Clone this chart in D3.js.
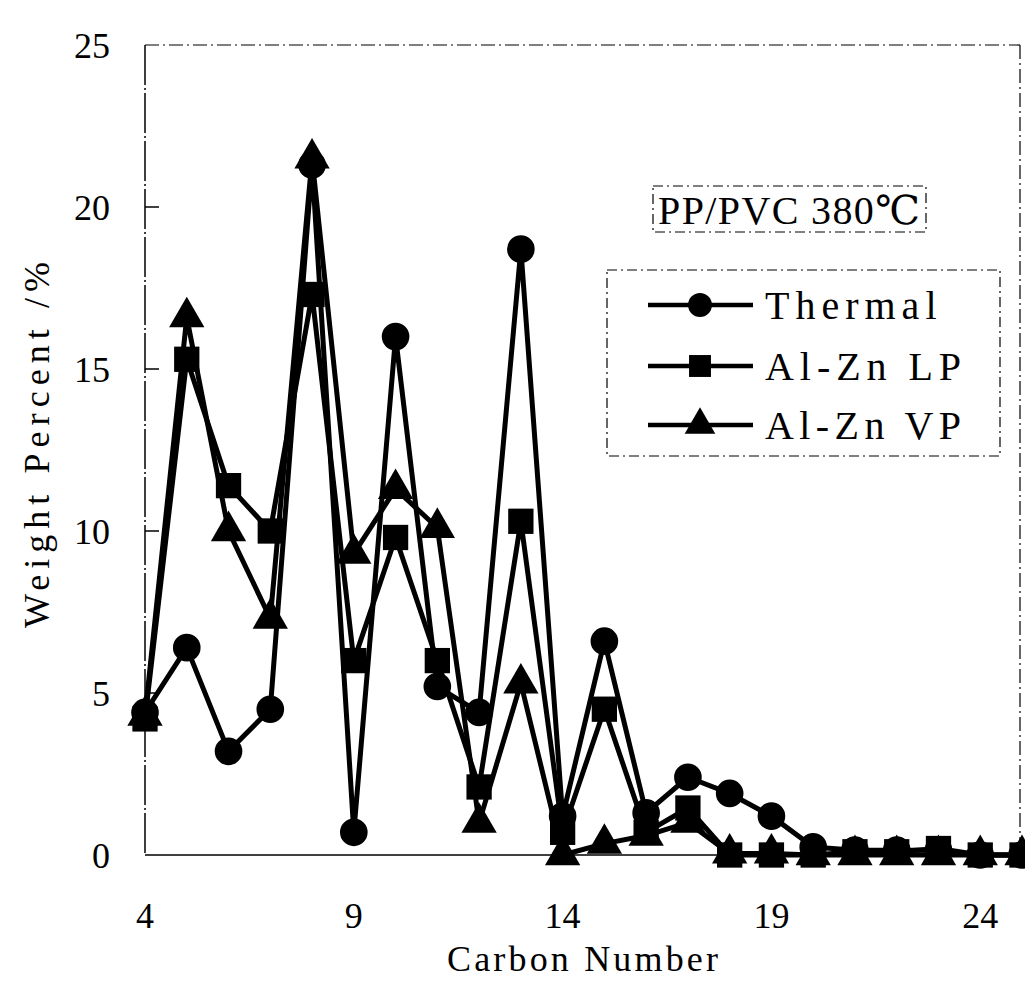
<!DOCTYPE html>
<html lang="en">
<head>
<meta charset="UTF-8">
<title>PP/PVC 380℃ carbon number distribution</title>
<script src="https://d3js.org/d3.v7.min.js"></script>
<style>
    body { margin: 0; background: #fff; }
    text { fill: #000; }
    .tick-label { font-family: "Liberation Serif", "DejaVu Serif", serif; font-size: 36px; }
    .axis-title { font-family: "Liberation Serif", "DejaVu Serif", serif; font-size: 36px; }
    .legend-text { font-family: "Liberation Serif", "DejaVu Serif", serif; font-size: 40px; }
</style>
</head>
<body>
<div id="chart"></div>
<script>
    // carbon numbers C4 .. C25
    const carbon = d3.range(4, 26);

    // weight percent
    const thermal = [4.4, 6.4, 3.2, 4.5, 21.3, 0.7, 16.0, 5.2, 4.4, 18.7, 1.2, 6.6, 1.3, 2.4, 1.9, 1.2, 0.25, 0.15, 0.15, 0.15, 0, 0];
    const alznLP  = [4.2, 15.3, 11.4, 10.0, 17.3, 6.0, 9.8, 6.0, 2.1, 10.3, 0.7, 4.5, 0.7, 1.45, 0, 0, 0, 0.1, 0.1, 0.2, 0, 0];
    const alznVP  = [4.3, 16.6, 10.0, 7.3, 21.5, 9.3, 11.3, 10.1, 1.0, 5.3, 0, 0.35, 0.6, 1.0, 0.05, 0.05, 0, 0, 0, 0, 0, 0];

    const xTicks = [4, 9, 14, 19, 24];
    const yTicks = [0, 5, 10, 15, 20, 25];
    const seriesNames = ["Thermal", "Al-Zn LP", "Al-Zn VP"];
    const seriesSymbols = [d3.symbolCircle, d3.symbolSquare, d3.symbolTriangle];
    const seriesSizes = [600, 640, 540];

    const width = 1025, height = 988;
    const x = d3.scaleLinear().domain([4, 25]).range([145, 1022]);
    const y = d3.scaleLinear().domain([0, 25]).range([855, 45]);

    const svg = d3.select("#chart").append("svg")
        .attr("width", width)
        .attr("height", height);

    // frame
    svg.append("line").attr("x1", x(4)).attr("x2", x(4)).attr("y1", y(25)).attr("y2", y(0))
        .attr("stroke", "#000").attr("stroke-width", 1.5).attr("stroke-dasharray", "40,3,2,3");
    svg.append("line").attr("x1", x(4)).attr("x2", x(25)).attr("y1", y(0)).attr("y2", y(0))
        .attr("stroke", "#000").attr("stroke-width", 1.5);
    svg.append("line").attr("x1", x(4)).attr("x2", 1020).attr("y1", y(25)).attr("y2", y(25))
        .attr("stroke", "#000").attr("stroke-width", 1.2).attr("stroke-dasharray", "14,4,2,4");
    svg.append("line").attr("x1", 1020).attr("x2", 1020).attr("y1", y(25)).attr("y2", y(0))
        .attr("stroke", "#000").attr("stroke-width", 1.2).attr("stroke-dasharray", "14,4,2,4");

    // y ticks (inward) and labels
    svg.selectAll(".ytick").data(yTicks.filter(d => d > 0 && d < 25)).enter().append("line")
        .attr("x1", x(4)).attr("x2", x(4) + 14)
        .attr("y1", d => y(d)).attr("y2", d => y(d))
        .attr("stroke", "#000").attr("stroke-width", 1.5);
    svg.selectAll(".ylab").data(yTicks).enter().append("text")
        .attr("class", "tick-label")
        .attr("x", 110).attr("y", d => y(d))
        .attr("dy", "0.35em")
        .attr("text-anchor", "end")
        .text(d => d);

    // x tick labels
    svg.selectAll(".xlab").data(xTicks).enter().append("text")
        .attr("class", "tick-label")
        .attr("x", d => x(d)).attr("y", 915)
        .attr("dy", "0.35em")
        .attr("text-anchor", "middle")
        .text(d => d);

    // axis titles
    svg.append("text").attr("class", "axis-title")
        .attr("x", 447).attr("y", 958).attr("dy", "0.35em")
        .attr("textLength", 271)
        .text("Carbon Number");
    svg.append("text").attr("class", "axis-title")
        .attr("transform", "translate(36,628) rotate(-90)")
        .attr("dy", "0.35em")
        .attr("textLength", 366)
        .text("Weight Percent /%");

    // series
    const series = [thermal, alznLP, alznVP];
    const line = d3.line().x((d, i) => x(carbon[i])).y(d => y(d));

    series.forEach((vals, s) => {
        svg.append("path")
            .attr("d", line(vals))
            .attr("fill", "none")
            .attr("stroke", "#000")
            .attr("stroke-width", 5)
            .attr("stroke-linejoin", "round");
    });
    series.forEach((vals, s) => {
        svg.append("g").selectAll("path").data(vals).enter().append("path")
            .attr("transform", (d, i) => `translate(${x(carbon[i])},${y(d)})`)
            .attr("d", d3.symbol().type(seriesSymbols[s]).size(seriesSizes[s]))
            .attr("fill", "#000");
    });

    // condition label box
    svg.append("rect").attr("x", 653).attr("y", 186).attr("width", 273).attr("height", 46)
        .attr("fill", "#fff").attr("stroke", "#000").attr("stroke-width", 1.2)
        .attr("stroke-dasharray", "10,4,2,4");
    svg.append("text").attr("class", "legend-text")
        .attr("x", 658).attr("y", 210).attr("dy", "0.35em")
        .attr("textLength", 262)
        .text("PP/PVC 380℃");

    // legend
    const lg = svg.append("g");
    lg.append("rect").attr("x", 607).attr("y", 270).attr("width", 393).attr("height", 186)
        .attr("fill", "#fff").attr("stroke", "#000").attr("stroke-width", 1.2)
        .attr("stroke-dasharray", "10,4,2,4");
    const legendY = [305, 366, 425];
    seriesNames.forEach((name, s) => {
        lg.append("line").attr("x1", 648).attr("x2", 753)
            .attr("y1", legendY[s]).attr("y2", legendY[s])
            .attr("stroke", "#000").attr("stroke-width", 4.5);
        lg.append("path")
            .attr("transform", `translate(700,${legendY[s]})`)
            .attr("d", d3.symbol().type(seriesSymbols[s]).size(seriesSizes[s] * 0.75))
            .attr("fill", "#000");
        lg.append("text").attr("class", "legend-text")
            .attr("x", 765).attr("y", legendY[s]).attr("dy", "0.35em")
            .attr("textLength", name.length * 24.5)
            .text(name);
    });
</script>
</body>
</html>
